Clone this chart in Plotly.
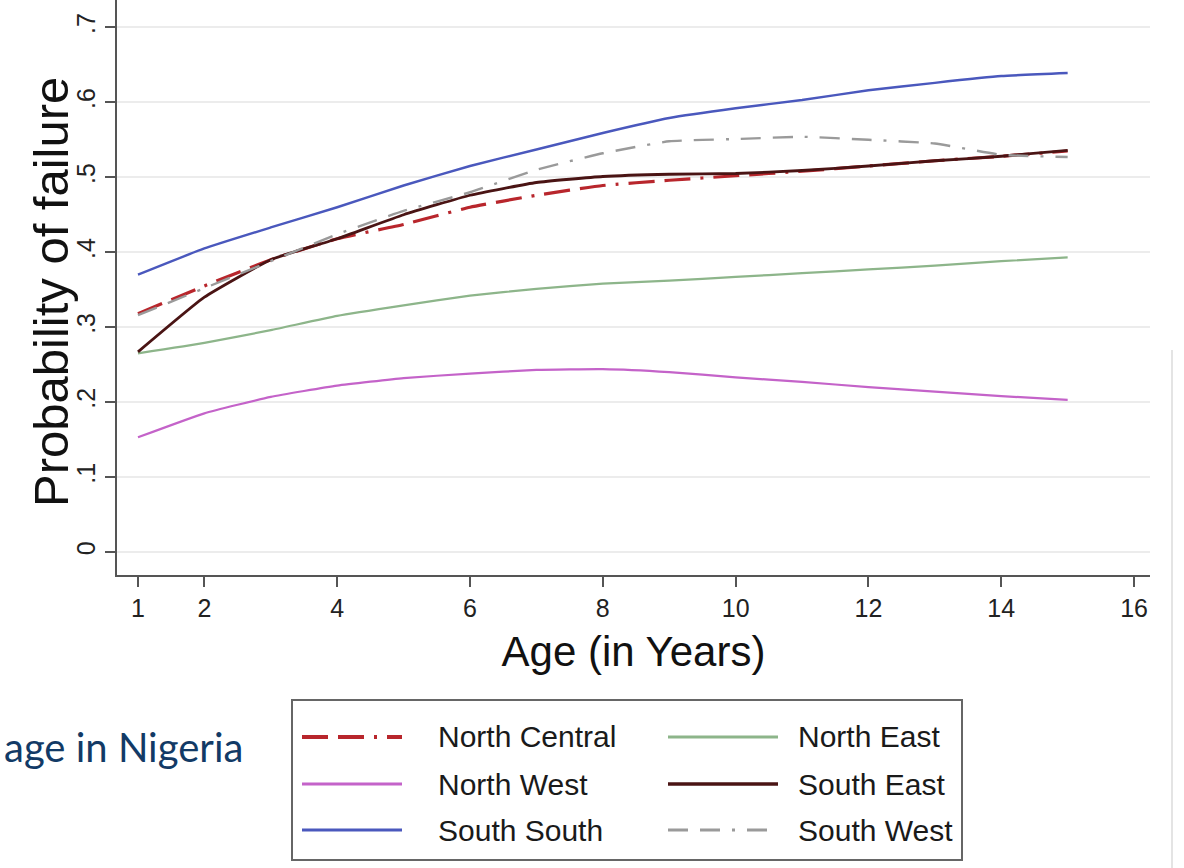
import plotly.graph_objects as go

ages = [1, 2, 3, 4, 5, 6, 7, 8, 9, 10, 11, 12, 13, 14, 15]

north_central = [0.318, 0.355, 0.390, 0.418, 0.437, 0.460, 0.476, 0.489, 0.496, 0.502, 0.508, 0.515, 0.522, 0.528, 0.535]
north_east    = [0.265, 0.279, 0.296, 0.315, 0.329, 0.342, 0.351, 0.358, 0.362, 0.367, 0.372, 0.377, 0.382, 0.388, 0.393]
north_west    = [0.153, 0.185, 0.207, 0.222, 0.232, 0.238, 0.243, 0.244, 0.240, 0.233, 0.227, 0.220, 0.214, 0.208, 0.203]
south_east    = [0.267, 0.340, 0.390, 0.418, 0.450, 0.476, 0.493, 0.501, 0.504, 0.505, 0.509, 0.515, 0.522, 0.528, 0.536]
south_south   = [0.370, 0.405, 0.433, 0.460, 0.489, 0.515, 0.537, 0.559, 0.579, 0.592, 0.603, 0.616, 0.626, 0.635, 0.639]
south_west    = [0.316, 0.352, 0.388, 0.424, 0.455, 0.480, 0.510, 0.532, 0.548, 0.551, 0.554, 0.550, 0.545, 0.530, 0.527]

series_names = ["North Central", "North East", "North West", "South East", "South South", "South West"]
series_values = [north_central, north_east, north_west, south_east, south_south, south_west]
colors = ["#b8262c", "#8db58a", "#c463c9", "#4a1414", "#4a58bd", "#9a9a9a"]
dashes = ["26px,10px,26px,10px,3px,10px", "solid", "solid", "solid", "solid",
          "20px,12px,20px,12px,3px,12px"]
widths = [3.2, 2.2, 2.2, 2.8, 2.4, 2.4]

x_ticks = [1, 2, 4, 6, 8, 10, 12, 14, 16]
y_ticks = [0, 0.1, 0.2, 0.3, 0.4, 0.5, 0.6, 0.7]
y_tick_labels = ["0", ".1", ".2", ".3", ".4", ".5", ".6", ".7"]

W, H = 1184, 868
L, R, T, B = 117, 34, 0, 293
PW, PH = W - L - R, H - T - B

def px(x):
    return (x - L) / PW

def py(y):
    return (H - B - y) / PH

fig = go.Figure()
for name, vals, c, d, w in zip(series_names, series_values, colors, dashes, widths):
    fig.add_trace(go.Scatter(x=ages, y=vals, mode="lines", name=name,
                             line=dict(color=c, dash=d, width=w, shape="spline", smoothing=0.4),
                             showlegend=False))

font_main = "Liberation Sans, Arial, sans-serif"

fig.update_layout(
    width=W, height=H,
    margin=dict(l=L, r=R, t=T, b=B, autoexpand=False),
    paper_bgcolor="white", plot_bgcolor="white",
    font=dict(family=font_main, color="#222"),
    xaxis=dict(range=[0.684, 16.24], tickvals=x_ticks, ticks="outside", ticklen=10,
               tickwidth=1.5, tickcolor="#555", showline=True, linecolor="#555", linewidth=2,
               showgrid=False, zeroline=False, tickfont=dict(size=25, color="#222"),
               automargin=False,
               title=dict(text="Age (in Years)", font=dict(size=42, color="#111"), standoff=16)),
    yaxis=dict(range=[-0.0307, 0.7365], tickvals=y_ticks, ticktext=y_tick_labels,
               ticks="outside", ticklen=10, tickwidth=1.5, tickcolor="#555",
               showline=True, linecolor="#555", linewidth=2, tickangle=-90,
               showgrid=True, gridcolor="#ececec", gridwidth=1.5, zeroline=False,
               tickfont=dict(size=25, color="#222"), automargin=False),
)

# legend box (manual, Stata-style)
shapes = [dict(type="rect", xref="paper", yref="paper",
               x0=px(292), x1=px(962), y0=py(860), y1=py(700),
               line=dict(color="#666", width=2), fillcolor="white", layer="above"),
          dict(type="line", xref="paper", yref="paper",
               x0=px(1172), x1=px(1172), y0=py(350), y1=py(868),
               line=dict(color="#e4e4e4", width=2))]
annotations = [dict(text="Probability of failure", xref="paper", yref="paper",
                    x=px(51), y=py(292), xanchor="center", yanchor="middle",
                    textangle=-90, showarrow=False,
                    font=dict(size=49, color="#111", family=font_main))]
rows_y = [737, 784, 830]
cols = [(302, 402, 436), (668, 778, 796)]
for i, name in enumerate(series_names):
    r, c = divmod(i, 2)
    x0, x1, xt = cols[c]
    yy = rows_y[r]
    shapes.append(dict(type="line", xref="paper", yref="paper",
                       x0=px(x0), x1=px(x1), y0=py(yy), y1=py(yy),
                       line=dict(color=colors[i], width=widths[i] + 0.6, dash=dashes[i]),
                       layer="above"))
    annotations.append(dict(text=name, xref="paper", yref="paper", x=px(xt), y=py(yy),
                            xanchor="left", yanchor="middle", showarrow=False,
                            font=dict(size=30, color="#1a1a1a", family=font_main)))

# stray page text visible in the screenshot
annotations.append(dict(text="age in Nigeria", xref="paper", yref="paper", x=px(2), y=py(747),
                        xanchor="left", yanchor="middle", showarrow=False,
                        font=dict(size=40, color="#123a66", family="Lato, sans-serif")))

fig.update_layout(shapes=shapes, annotations=annotations)

fig.write_html("out.html", config={"displayModeBar": False},
               post_script="document.body.style.margin='0';")
